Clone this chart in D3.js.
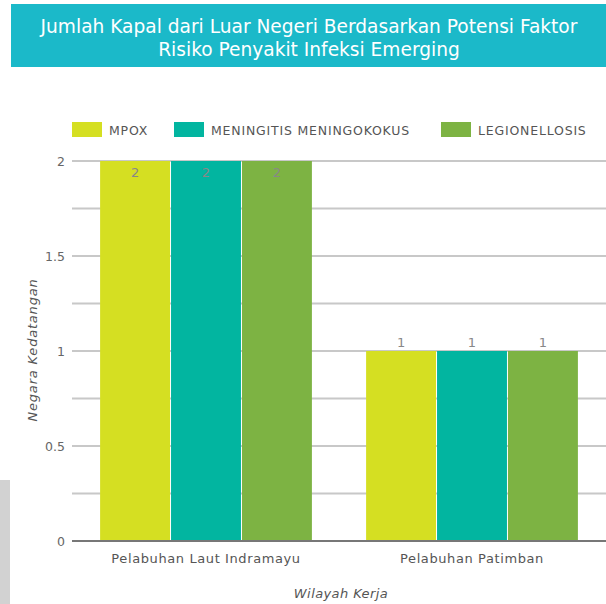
<!DOCTYPE html>
<html><head><meta charset="utf-8">
<script src="https://cdn.jsdelivr.net/npm/d3@7"></script>
<style>body{margin:0;background:#fff}svg{display:block}</style>
</head><body>
<svg id="c" width="606" height="604"></svg>
<script>
const categories = ["Pelabuhan Laut Indramayu", "Pelabuhan Patimban"];
const seriesNames = ["MPOX", "MENINGITIS MENINGOKOKUS", "LEGIONELLOSIS"];
const mpox = [2, 1];
const meningitis = [2, 1];
const legionellosis = [2, 1];
const yTicks = [0, 0.5, 1, 1.5, 2];
const titleLines = ["Jumlah Kapal dari Luar Negeri Berdasarkan Potensi Faktor", "Risiko Penyakit Infeksi Emerging"];
const colors = ["#d5df22", "#02b5a0", "#7db343"];

const series = [mpox, meningitis, legionellosis];
const font = "'DejaVu Sans', sans-serif";
const svg = d3.select("#c");

// left background residue
svg.append("rect").attr("x",0).attr("y",480).attr("width",10).attr("height",124).attr("fill","#d2d2d2");

// title banner
svg.append("rect").attr("x",11).attr("y",4).attr("width",595).attr("height",63).attr("fill","#1bb9c9");
svg.append("g").selectAll("text").data(titleLines).join("text")
  .attr("x",309).attr("y",(d,i)=>33+i*22.5).attr("text-anchor","middle")
  .attr("fill","#fff").attr("font-family",font).attr("font-size",18.6).text(d=>d);

const pL = 73, pR = 605, pT = 161, pB = 541;
const x0 = d3.scaleBand().domain(categories).range([pL,pR]).paddingInner(0.2).paddingOuter(0.1);
const x1 = d3.scaleBand().domain(seriesNames).range([0,x0.bandwidth()]);
const y = d3.scaleLinear().domain([0,2]).range([pB,pT]);

// gridlines
const grid = d3.range(0, 2.01, 0.25);
svg.append("g").selectAll("line").data(grid).join("line")
  .attr("x1",72).attr("x2",606).attr("y1",d=>y(d)).attr("y2",d=>y(d))
  .attr("stroke",d=>d===0?"#777":"#c8c8c8").attr("stroke-width",2);

// y axis labels
const ya = svg.append("g").attr("transform",`translate(${pL},0)`)
  .call(d3.axisLeft(y).tickValues(yTicks).tickFormat(d=>String(d)).tickSize(0).tickPadding(8));
ya.select(".domain").remove();
ya.selectAll("text").attr("font-family",font).attr("font-size",12.5).attr("fill","#666");

// bars
const groups = svg.append("g").selectAll("g").data(categories).join("g")
  .attr("transform",d=>`translate(${x0(d)},0)`);
groups.selectAll("rect").data((c,ci)=>seriesNames.map((s,si)=>({s,si,v:series[si][ci]}))).join("rect")
  .attr("x",d=>x1(d.s)+0.5).attr("width",x1.bandwidth()-1)
  .attr("y",d=>y(d.v)).attr("height",d=>y(0)-y(d.v)-1)
  .attr("fill",d=>colors[d.si]);
groups.selectAll("text").data((c,ci)=>seriesNames.map((s,si)=>({s,si,v:series[si][ci]}))).join("text")
  .attr("x",d=>x1(d.s)+x1.bandwidth()/2)
  .attr("y",d=>d.v>=2?y(d.v)+16:y(d.v)-4)
  .attr("text-anchor","middle").attr("font-family",font).attr("font-size",13).attr("fill","#888")
  .text(d=>d.v);

// x axis labels
const xa = svg.append("g").attr("transform",`translate(0,${pB})`)
  .call(d3.axisBottom(x0).tickSize(0).tickPadding(13));
xa.select(".domain").remove();
xa.selectAll("text").attr("font-family",font).attr("font-size",13).attr("letter-spacing",0.6).attr("fill","#555");

// axis titles
svg.append("text").attr("x",(pL+pR)/2+2).attr("y",598).attr("text-anchor","middle")
  .attr("font-family",font).attr("font-style","italic").attr("font-size",13).attr("letter-spacing",0.4).attr("fill","#555").text("Wilayah Kerja");
svg.append("text").attr("transform","translate(37,350) rotate(-90)").attr("text-anchor","middle")
  .attr("font-family",font).attr("font-style","italic").attr("font-size",13).attr("letter-spacing",0.8).attr("fill","#555").text("Negara Kedatangan");

// legend
const legX = [72, 174, 441];
const leg = svg.append("g").selectAll("g").data(seriesNames).join("g")
  .attr("transform",(d,i)=>`translate(${legX[i]},122)`);
leg.append("rect").attr("width",30).attr("height",15).attr("fill",(d,i)=>colors[i]);
leg.append("text").attr("x",37).attr("y",12.5).attr("font-family",font).attr("font-size",12.5).attr("letter-spacing",0.8).attr("fill","#555").text(d=>d);
</script>
</body></html>
